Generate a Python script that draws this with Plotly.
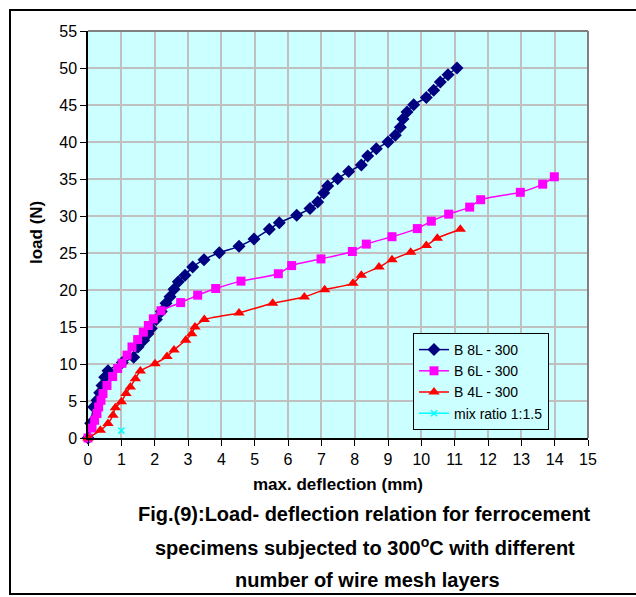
import plotly.graph_objects as go

# ---- data ----
b8_x = [0, 0.08, 0.17, 0.27, 0.35, 0.42, 0.5, 0.6, 1.03, 1.37, 1.5, 1.67, 1.8, 1.9, 2.05, 2.2,
        2.34, 2.46, 2.58, 2.71, 2.91, 3.14, 3.48, 3.94, 4.53, 4.98, 5.44, 5.74, 6.26, 6.66,
        6.89, 7.07, 7.19, 7.49, 7.82, 8.2, 8.39, 8.65, 9.0, 9.22, 9.37, 9.45, 9.57, 9.77,
        10.15, 10.37, 10.57, 10.8, 11.07]
b8_y = [0, 2.0, 4.2, 5.1, 6.1, 7.1, 8.2, 9.1, 10.2, 10.9, 12.3, 13.2, 14.1, 14.8, 16.0, 17.1,
        18.2, 19.1, 20.1, 21.1, 22.0, 23.1, 24.1, 25.05, 25.9, 26.9, 28.2, 29.1, 30.1, 31.0,
        31.9, 33.1, 34.05, 35.05, 36.0, 36.9, 38.1, 39.1, 40.0, 40.9, 42.0, 43.1, 44.05, 45.05,
        46.0, 47.0, 48.1, 49.1, 50.0]

b6_x = [0, 0.12, 0.2, 0.27, 0.32, 0.39, 0.45, 0.57, 0.74, 0.89, 1.02, 1.17, 1.32, 1.49, 1.66,
        1.81, 1.96, 2.19, 2.78, 3.29, 3.83, 4.59, 5.71, 6.11, 6.99, 7.93, 8.35, 9.12, 9.88,
        10.3, 10.82, 11.45, 11.78, 12.97, 13.64, 13.99]
b6_y = [0, 1.35, 2.4, 3.3, 4.2, 5.1, 6.0, 7.1, 8.3, 9.4, 10.1, 11.2, 12.3, 13.3, 14.3,
        15.2, 16.1, 17.2, 18.3, 19.3, 20.2, 21.2, 22.2, 23.3, 24.2, 25.2, 26.2, 27.2, 28.3,
        29.3, 30.25, 31.2, 32.2, 33.2, 34.3, 35.3]

b4_x = [0, 0.37, 0.6, 0.75, 0.82, 1.0, 1.14, 1.27, 1.42, 1.57, 2.01, 2.37, 2.58, 2.93, 3.11,
        3.21, 3.49, 4.53, 5.54, 6.49, 7.1, 7.95, 8.2, 8.73, 9.12, 9.68, 10.15, 10.48, 11.17]
b4_y = [0, 1.04, 1.95, 3.07, 4.1, 4.9, 6.0, 6.9, 8.0, 9.05, 10.05, 11.0, 11.9, 13.2, 14.1,
        15.0, 16.0, 16.9, 18.2, 19.05, 20.05, 20.9, 22.0, 23.1, 24.1, 25.1, 26.0, 27.0, 28.2]

mix_x = [1.0]
mix_y = [1.0]

series_names = ["B 8L - 300", "B 6L - 300", "B 4L - 300", "mix ratio 1:1.5"]
x_ticks = list(range(0, 16))
y_ticks = list(range(0, 56, 5))

FONT = "Liberation Sans, Arial, sans-serif"

fig = go.Figure()
fig.add_trace(go.Scatter(x=b8_x, y=b8_y, name=series_names[0], mode="lines+markers",
                         line=dict(color="#000080", width=1.5, shape="spline", smoothing=0.6),
                         marker=dict(symbol="diamond", size=10, color="#000080"),
                         cliponaxis=False))
fig.add_trace(go.Scatter(x=b6_x, y=b6_y, name=series_names[1], mode="lines+markers",
                         line=dict(color="#FF00FF", width=1.5, shape="spline", smoothing=0.6),
                         marker=dict(symbol="square", size=9, color="#FF00FF"),
                         cliponaxis=False))
fig.add_trace(go.Scatter(x=b4_x, y=b4_y, name=series_names[2], mode="lines+markers",
                         line=dict(color="#FF0000", width=1.5, shape="spline", smoothing=0.6),
                         marker=dict(symbol="triangle-up", size=10, color="#FF0000"),
                         cliponaxis=False))
fig.add_trace(go.Scatter(x=mix_x, y=mix_y, name=series_names[3], mode="lines+markers",
                         line=dict(color="#00FFFF", width=1.5),
                         marker=dict(symbol="x-thin", size=6, color="#00FFFF",
                                     line=dict(color="#00FFFF", width=1.5)),
                         cliponaxis=False))

L, R, T, B = 88, 48, 31, 159
W, H = 636, 597
pw, ph = W - L - R, H - T - B

def px2paper_x(px):
    return (px - L) / pw

def px2paper_y(py):
    return (H - B - py) / ph

fig.update_layout(
    width=W, height=H,
    margin=dict(l=L, r=R, t=T, b=B),
    paper_bgcolor="white",
    plot_bgcolor="#CCFFFF",
    font=dict(family=FONT, size=16, color="black"),
    showlegend=True,
    legend=dict(x=px2paper_x(413), y=px2paper_y(333), xanchor="left", yanchor="top",
                bgcolor="#CCFFFF", bordercolor="black", borderwidth=1,
                font=dict(family=FONT, size=14, color="black"),
                tracegroupgap=0, itemwidth=30),
    xaxis=dict(range=[0, 15], tickvals=x_ticks, ticktext=[str(v) for v in x_ticks],
               showgrid=True, gridcolor="#C0C0C0", gridwidth=1.5,
               showline=True, linecolor="black", linewidth=1.5,
               ticks="outside", ticklen=6, tickcolor="black", tickwidth=1,
               zeroline=False, tickfont=dict(size=16)),
    yaxis=dict(range=[0, 55], tickvals=y_ticks, ticktext=[str(v) for v in y_ticks],
               showgrid=True, gridcolor="#C0C0C0", gridwidth=1.5,
               showline=True, linecolor="black", linewidth=1.5,
               ticks="outside", ticklen=6, tickcolor="black", tickwidth=1,
               zeroline=False, tickfont=dict(size=16)),
    shapes=[
        # grey top/right plot-area border
        dict(type="line", xref="paper", yref="paper", x0=0, x1=1, y0=1, y1=1,
             line=dict(color="#808080", width=2)),
        dict(type="line", xref="paper", yref="paper", x0=1, x1=1, y0=0, y1=1,
             line=dict(color="#808080", width=2)),
        # outer frame
        dict(type="rect", xref="paper", yref="paper",
             x0=px2paper_x(10), x1=px2paper_x(645), y0=px2paper_y(594), y1=px2paper_y(10),
             line=dict(color="black", width=2), fillcolor="rgba(0,0,0,0)", layer="below"),
    ],
    annotations=[
        dict(text="<b>load (N)</b>", textangle=-90, xref="paper", yref="paper",
             x=px2paper_x(36), y=px2paper_y(233), showarrow=False,
             font=dict(size=17), xanchor="center", yanchor="middle"),
        dict(text="<b>max. deflection (mm)</b>", xref="paper", yref="paper",
             x=px2paper_x(338), y=px2paper_y(484), showarrow=False,
             font=dict(size=17), xanchor="center", yanchor="middle"),
        dict(text="<b>Fig.(9):Load- deflection relation for ferrocement</b>",
             xref="paper", yref="paper", x=px2paper_x(364), y=px2paper_y(514),
             showarrow=False, font=dict(size=20), xanchor="center", yanchor="middle"),
        dict(text="<b>specimens subjected to 300<sup>o</sup>C with different</b>",
             xref="paper", yref="paper", x=px2paper_x(365), y=px2paper_y(546),
             showarrow=False, font=dict(size=20), xanchor="center", yanchor="middle"),
        dict(text="<b>number of wire mesh layers</b>",
             xref="paper", yref="paper", x=px2paper_x(367), y=px2paper_y(580),
             showarrow=False, font=dict(size=20), xanchor="center", yanchor="middle"),
    ],
)

fig.write_html("out.html")
